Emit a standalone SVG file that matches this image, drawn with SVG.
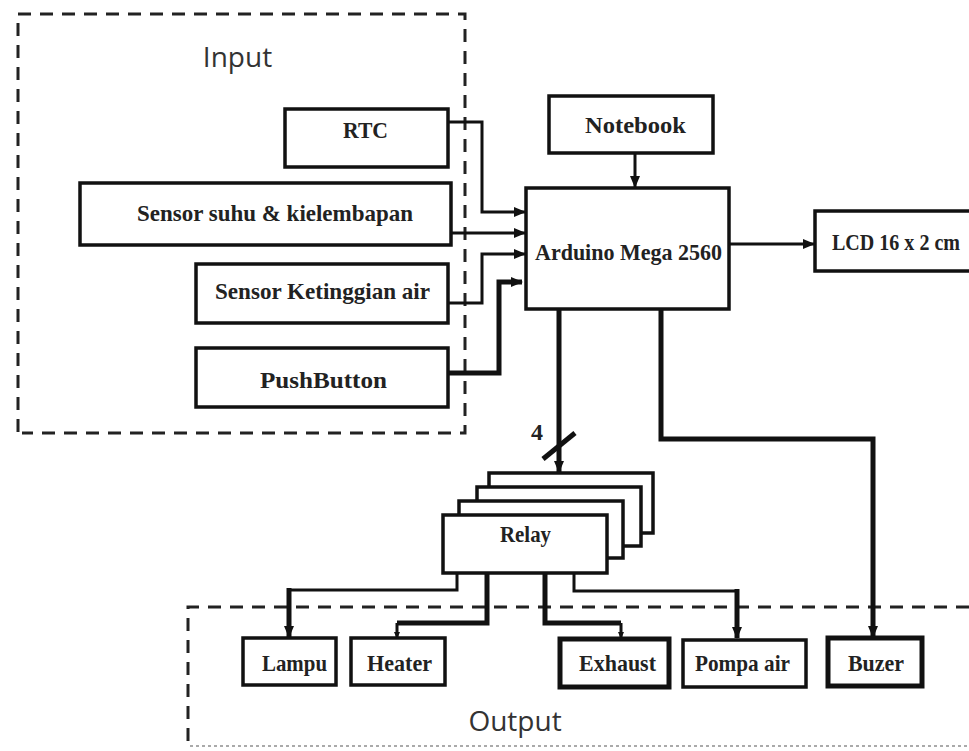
<svg xmlns="http://www.w3.org/2000/svg" width="969" height="751" viewBox="0 0 969 751">
  <defs>
    <marker id="arr" markerUnits="userSpaceOnUse" markerWidth="12" markerHeight="10" refX="11" refY="5" orient="auto">
      <path d="M0,0 L12,5 L0,10 z" fill="#111"/>
    </marker>
    <marker id="arrs" markerUnits="userSpaceOnUse" markerWidth="7" markerHeight="6" refX="6" refY="3" orient="auto">
      <path d="M0,0 L7,3 L0,6 z" fill="#111"/>
    </marker>
  </defs>
  <style>
    .box { fill: #fff; stroke: #111; stroke-width: 3.5; }
    .thick { stroke-width: 5; }
    .lbl { font-family: "Liberation Serif", "Times New Roman", serif; font-weight: bold; font-size: 24px; fill: #222; text-anchor: middle; }
    .grp { font-family: "Open Sans", "Liberation Sans", sans-serif; font-size: 28px; fill: #333; text-anchor: middle; }
    .dash { fill: none; stroke: #222; stroke-width: 3; stroke-dasharray: 13 9; }
    .wire { fill: none; stroke: #111; stroke-width: 3; }
    .wire5 { fill: none; stroke: #111; stroke-width: 5; }
  </style>
  <rect width="969" height="751" fill="#fff"/>

  <!-- group frames -->
  <g id="input-frame">
    <path class="dash" d="M18,432 V14 H465 V433 H22"/>
    <text class="grp" x="237.5" y="67">Input</text>
  </g>
  <g id="output-frame">
    <path class="dash" d="M969,607 H188 V748"/>
    <path d="M190,746 H969" fill="none" stroke="#aaa" stroke-width="2" stroke-dasharray="3 3"/>
    <text class="grp" x="515" y="731" font-size="27px">Output</text>
  </g>

  <!-- connectors -->
  <g id="connectors">
    <path class="wire" d="M448,122 H482 V212 H525" marker-end="url(#arr)"/>
    <path class="wire" d="M451,233 H525" marker-end="url(#arr)"/>
    <path class="wire" d="M448,303 H482 V254 H525" marker-end="url(#arr)"/>
    <path class="wire5" d="M448,373 H499 V282 H522" marker-end="url(#arr)"/>
    <path class="wire" d="M635,153 V187" marker-end="url(#arr)"/>
    <path class="wire" d="M729,244 H814" marker-end="url(#arr)"/>
    <path class="wire5" d="M559,309 V472" marker-end="url(#arr)"/>
    <line x1="543" y1="459" x2="575" y2="433" stroke="#111" stroke-width="5"/>
    <text class="lbl" x="537" y="440" font-size="20px">4</text>
    <path class="wire5" d="M661,309 V439 H873 V637" marker-end="url(#arr)"/>
    <path class="wire" d="M457,573 V590 H289"/>
    <path class="wire5" d="M289,588 V637" marker-end="url(#arr)"/>
    <path class="wire5" d="M487,573 V623 H397"/>
    <path class="wire" d="M397,623 V638" marker-end="url(#arrs)"/>
    <path class="wire5" d="M545,573 V623 H621"/>
    <path class="wire" d="M621,623 V638" marker-end="url(#arrs)"/>
    <path class="wire" d="M574,573 V591 H737"/>
    <path class="wire5" d="M737,589 V638" marker-end="url(#arr)"/>
  </g>

  <!-- nodes -->
  <g id="rtc">
    <rect class="box" x="285" y="109" width="163" height="58"/>
    <text class="lbl" x="365.5" y="138" textLength="45" lengthAdjust="spacingAndGlyphs">RTC</text>
  </g>
  <g id="sensor-suhu">
    <rect class="box" x="80" y="183" width="371" height="62" stroke-width="4"/>
    <text class="lbl" x="275" y="221" textLength="276" lengthAdjust="spacingAndGlyphs">Sensor suhu &amp; kielembapan</text>
  </g>
  <g id="sensor-ketinggian">
    <rect class="box" x="196" y="264" width="252" height="59" stroke-width="4.5"/>
    <text class="lbl" x="322.5" y="299" textLength="215" lengthAdjust="spacingAndGlyphs">Sensor Ketinggian air</text>
  </g>
  <g id="pushbutton">
    <rect class="box" x="196" y="348" width="252" height="59" stroke-width="4.5"/>
    <text class="lbl" x="323.5" y="388" textLength="127" lengthAdjust="spacingAndGlyphs">PushButton</text>
  </g>
  <g id="notebook">
    <rect class="box" x="549" y="96" width="164" height="57"/>
    <text class="lbl" x="635.5" y="133" textLength="101" lengthAdjust="spacingAndGlyphs">Notebook</text>
  </g>
  <g id="arduino">
    <rect class="box" x="526" y="188" width="203" height="121"/>
    <text class="lbl" x="628.5" y="260" textLength="187" lengthAdjust="spacingAndGlyphs">Arduino Mega 2560</text>
  </g>
  <g id="lcd">
    <path class="box" d="M969,211 H815 V271 H969"/>
    <text class="lbl" x="896" y="250" font-size="21px" textLength="128" lengthAdjust="spacingAndGlyphs">LCD 16 x 2 cm</text>
  </g>
  <g id="relay">
    <rect class="box" x="489" y="473" width="164" height="60"/>
    <rect class="box" x="477" y="487" width="164" height="59"/>
    <rect class="box" x="459" y="501" width="164" height="57"/>
    <rect class="box" x="443" y="515" width="164" height="58"/>
    <text class="lbl" x="525.5" y="542" textLength="51" lengthAdjust="spacingAndGlyphs">Relay</text>
  </g>
  <g id="lampu">
    <rect class="box" x="243" y="638" width="93" height="47"/>
    <text class="lbl" x="294.5" y="671" textLength="65" lengthAdjust="spacingAndGlyphs">Lampu</text>
  </g>
  <g id="heater">
    <rect class="box" x="351" y="638" width="94" height="47"/>
    <text class="lbl" x="399.5" y="671" textLength="65" lengthAdjust="spacingAndGlyphs">Heater</text>
  </g>
  <g id="exhaust">
    <rect class="box thick" x="560" y="639" width="109" height="48"/>
    <text class="lbl" x="617.5" y="671" textLength="77" lengthAdjust="spacingAndGlyphs">Exhaust</text>
  </g>
  <g id="pompa-air">
    <rect class="box" x="683" y="640" width="123" height="47" stroke-width="4"/>
    <text class="lbl" x="742.5" y="671" textLength="95" lengthAdjust="spacingAndGlyphs">Pompa air</text>
  </g>
  <g id="buzer">
    <rect class="box thick" x="828" y="638" width="94" height="48"/>
    <text class="lbl" x="876" y="671" textLength="56" lengthAdjust="spacingAndGlyphs">Buzer</text>
  </g>
</svg>
